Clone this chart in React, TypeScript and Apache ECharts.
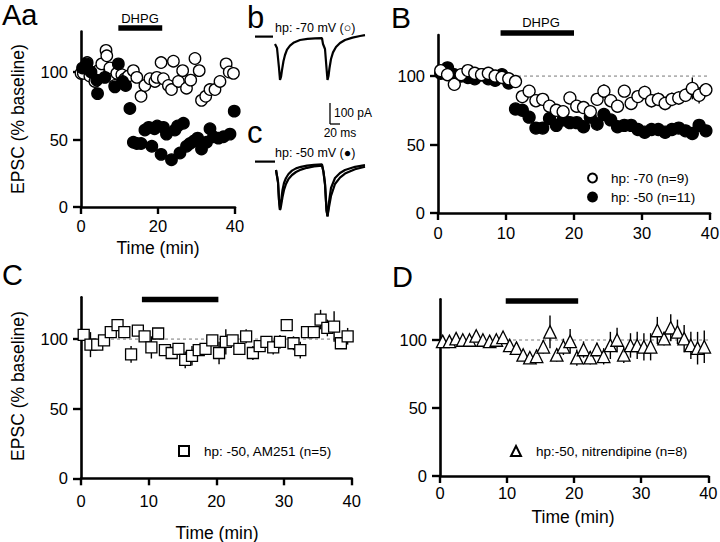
import React, { useEffect, useRef } from "react";
import * as echarts from "echarts";

// ---------- Panel Aa (single cell examples) ----------
const T_AA_HP70 = [0.0, 0.6, 1.6, 2.3, 3.6, 4.5, 5.4, 6.5, 6.7, 7.5, 8.8, 9.3, 10.6, 11.4, 12.3, 13.6, 14.5, 15.6, 16.6, 17.9, 19.2, 19.7, 20.8, 21.4, 22.7, 23.5, 24.0, 25.3, 26.4, 27.4, 28.5, 29.6, 30.7, 31.3, 32.4, 33.5, 34.8, 36.1, 37.7, 38.5, 39.6];
const V_AA_HP70 = [99, 99, 107, 97, 93, 101, 106, 116, 112, 103, 90, 99, 98, 95, 97, 101, 96, 82, 90, 95, 93, 96, 107, 95, 90, 87, 108, 93, 101, 88, 94, 110, 101, 79, 82, 87, 87, 93, 106, 100, 99];
const T_AA_HP50 = [0.4, 1.5, 2.6, 4.1, 4.3, 6.2, 8.8, 9.7, 10.8, 11.6, 12.7, 13.6, 14.5, 15.6, 16.6, 17.6, 18.4, 19.1, 19.8, 20.8, 21.4, 22.2, 23.5, 24.4, 25.1, 25.7, 26.6, 27.4, 28.3, 29.4, 30.3, 31.3, 32.6, 33.5, 34.4, 35.7, 37.0, 38.7, 39.8];
const V_AA_HP50 = [103, 106, 100, 94, 84, 96, 89, 106, 93, 90, 73, 48, 47, 47, 57, 59, 45, 58, 60, 39, 59, 54, 35, 57, 60, 40, 62, 45, 47, 49, 51, 43, 48, 58, 52, 51, 52, 54, 71];

// ---------- Averaged panels (B, C, D) ----------
const TIME_BIN = [0.4, 1.4, 2.4, 3.4, 4.4, 5.4, 6.4, 7.4, 8.4, 9.4, 10.4, 11.4, 12.4, 13.4, 14.4, 15.4, 16.4, 17.4, 18.4, 19.4, 20.4, 21.4, 22.4, 23.4, 24.4, 25.4, 26.4, 27.4, 28.4, 29.4, 30.4, 31.4, 32.4, 33.4, 34.4, 35.4, 36.4, 37.4, 38.4, 39.4];
const B_HP70 = [104, 101, 94, 101, 104, 102, 101, 102, 100, 99, 98, 96, 85, 89, 82, 83, 78, 75, 74, 84, 78, 77, 74, 83, 89, 82, 78, 89, 80, 85, 88, 82, 83, 80, 83, 84, 86, 91, 86, 90];
const B_HP70_SEM = [2, 2, 2, 2, 2, 2, 2, 2, 2, 2, 2, 3, 3, 3, 3, 3, 3, 3, 3, 3, 4, 4, 4, 4, 5, 4, 4, 4, 4, 4, 5, 5, 5, 5, 5, 5, 5, 8, 6, 5];
const B_HP50 = [102, 106, 101, 100, 99, 98, 101, 98, 97, 101, 95, 76, 75, 70, 62, 62, 69, 64, 68, 66, 66, 63, 70, 65, 72, 68, 63, 64, 64, 61, 59, 61, 61, 59, 61, 62, 60, 58, 64, 60];
const B_HP50_SEM = [2, 2, 2, 2, 2, 2, 2, 2, 3, 3, 3, 3, 3, 4, 4, 3, 3, 3, 3, 3, 3, 3, 4, 5, 4, 3, 3, 3, 3, 3, 3, 3, 3, 3, 3, 4, 3, 4, 4, 3];
const C_AM251 = [103, 96, 96, 99, 105, 110, 105, 89, 106, 102, 94, 104, 92, 90, 93, 85, 88, 92, 93, 99, 90, 98, 99, 93, 102, 90, 95, 98, 94, 98, 110, 97, 92, 105, 105, 114, 108, 109, 97, 102];
const C_AM251_SEM = [3, 9, 4, 3, 3, 3, 3, 6, 3, 4, 8, 4, 3, 4, 3, 6, 7, 4, 4, 4, 8, 9, 3, 4, 5, 5, 4, 4, 5, 5, 3, 5, 6, 3, 3, 7, 6, 11, 4, 6];
const D_NITR = [99, 99, 101, 100, 100, 103, 100, 99, 100, 102, 96, 94, 89, 87, 88, 95, 106, 89, 95, 99, 87, 93, 87, 93, 88, 96, 100, 89, 96, 96, 95, 95, 107, 101, 109, 106, 101, 96, 94, 95];
const D_NITR_SEM = [3, 3, 3, 3, 3, 3, 3, 3, 3, 3, 4, 4, 4, 4, 5, 5, 12, 5, 6, 9, 6, 6, 5, 5, 6, 10, 9, 6, 9, 10, 10, 10, 10, 5, 10, 9, 10, 10, 12, 12];

// DHPG application (min) for panels Aa, B, C, D
const DRUG_START = [9.7, 9.2, 9.0, 9.8];
const DRUG_END = [21.1, 20.0, 20.3, 20.6];
const DRUG_LEVEL = [132.6, 131.4, 128.4, 128.7];
const BASELINE_FROM = [null, 10, 0, 10];

// tick labels
const X_TICKS_AA = [0, 20, 40];
const X_TICKS = [0, 10, 20, 30, 40];
const Y_TICKS = [0, 50, 100];

// ---------- Example traces (ms, pA) ----------
const TRACE_B_T = [40, 44, 48, 50, 52, 54, 57, 60, 64, 70, 78, 90, 105, 120, 134, 136, 140, 143, 145, 147, 149, 152, 156, 162, 170, 180, 195, 210, 220];
const TRACE_B_I = [-30, -50, -150, -210, -195, -160, -115, -85, -58, -38, -22, -10, -4, -2, -1, -30, -55, -150, -210, -190, -150, -105, -72, -45, -25, -10, 2, 10, 14];
const TRACE_C1_T = [42, 46, 48, 50, 52, 55, 58, 62, 67, 74, 82, 92, 104, 118, 134, 137, 140, 143, 145, 148, 152, 160, 170, 180, 200, 220];
const TRACE_C1_I = [-30, -90, -180, -230, -190, -130, -95, -70, -50, -33, -22, -14, -8, -4, -2, -40, -100, -230, -262, -190, -120, -70, -45, -30, -14, -6];
const TRACE_C2_T = [42, 46, 48, 50, 52, 55, 58, 62, 67, 74, 82, 92, 104, 118, 134, 137, 140, 143, 145, 148, 152, 160, 170, 180, 200, 220];
const TRACE_C2_I = [-30, -90, -180, -230, -210, -165, -130, -100, -75, -55, -40, -28, -19, -12, -8, -40, -100, -230, -262, -215, -160, -100, -68, -48, -26, -14];
const STIM_B_T = [0, 36];
const STIM_B_I = [7, 7];
const STIM_C_T = [0, 40];
const STIM_C_I = [12, 12];

const FONT = "'Liberation Sans', Arial, Helvetica, sans-serif";

const zip = (a: number[], b: number[]) => a.map((x, i) => [x, b[i]]);
const zip3 = (a: number[], b: number[], c: number[]) => a.map((x, i) => [x, b[i], c[i]]);

function errRender(params: any, api: any) {
  const x = api.value(0);
  const y = api.value(1);
  const e = api.value(2);
  const p1 = api.coord([x, y - e]);
  const p2 = api.coord([x, y + e]);
  return {
    type: "line",
    shape: { x1: p1[0], y1: p1[1], x2: p2[0], y2: p2[1] },
    style: { stroke: "#000", lineWidth: 1.4 },
  };
}

function makeX(idx: number, ticks: number[], margin: number) {
  return {
    type: "value",
    gridIndex: idx,
    min: 0,
    max: 40,
    axisLine: { lineStyle: { color: "#000", width: 2.6 } },
    axisTick: { length: 7, lineStyle: { color: "#000", width: 2.4 }, customValues: ticks },
    axisLabel: { customValues: ticks, color: "#000", fontSize: 16.5, fontFamily: FONT, margin },
    splitLine: { show: false },
  };
}
function makeY(idx: number) {
  return {
    type: "value",
    gridIndex: idx,
    min: 0,
    max: 130,
    axisLine: { lineStyle: { color: "#000", width: 2.6 } },
    axisTick: { length: 8, lineStyle: { color: "#000", width: 2.4 }, customValues: Y_TICKS },
    axisLabel: { customValues: Y_TICKS, color: "#000", fontSize: 16.5, fontFamily: FONT, margin: 13 },
    splitLine: { show: false },
  };
}

function drugBar(i: number) {
  return {
    type: "line",
    xAxisIndex: i,
    yAxisIndex: i,
    clip: false,
    symbol: "none",
    silent: true,
    data: [[DRUG_START[i], DRUG_LEVEL[i]], [DRUG_END[i], DRUG_LEVEL[i]]],
    lineStyle: { color: "#000", width: 5.5, cap: "butt" },
    z: 1,
  };
}
function baseLine(i: number) {
  return {
    type: "line",
    xAxisIndex: i,
    yAxisIndex: i,
    symbol: "none",
    silent: true,
    data: [[BASELINE_FROM[i] as number, 100], [40, 100]],
    lineStyle: { color: "#777", width: 1, type: [3, 3] },
    z: 1,
  };
}
function errSeries(name: string, i: number, vals: number[], sem: number[]) {
  return {
    type: "custom",
    name,
    xAxisIndex: i,
    yAxisIndex: i,
    renderItem: errRender,
    data: zip3(TIME_BIN, vals, sem),
    encode: { x: 0, y: 1 },
    z: 2,
  };
}
function scatter(name: string, i: number, data: number[][], symbol: string, size: number, filled: boolean) {
  return {
    type: "scatter",
    name,
    xAxisIndex: i,
    yAxisIndex: i,
    symbol,
    symbolSize: size,
    data,
    itemStyle: { color: filled ? "#000" : "#fff", borderColor: "#000", borderWidth: 1.3, opacity: 1 },
    z: 3,
  };
}
function traceLine(i: number, t: number[], v: number[]) {
  return {
    type: "line",
    xAxisIndex: i,
    yAxisIndex: i,
    symbol: "none",
    silent: true,
    clip: false,
    data: zip(t, v),
    lineStyle: { color: "#000", width: 2.2 },
  };
}

function txt(text: string, x: number, y: number, size: number, align = "left", rotation = 0) {
  return {
    type: "text",
    x,
    y,
    rotation,
    silent: true,
    style: {
      text,
      fill: "#000",
      font: `${size}px ${FONT}`,
      fontSize: size,
      fontFamily: FONT,
      textAlign: align,
      align,
      textVerticalAlign: "middle",
      verticalAlign: "middle",
    },
  };
}

export default function App() {
  const ref = useRef<HTMLDivElement>(null);
  useEffect(() => {
    if (!ref.current) return;
    const chart = echarts.init(ref.current, null, { renderer: "svg" });
    const option: any = {
      animation: false,
      backgroundColor: "#fff",
      textStyle: { fontFamily: FONT },
      grid: [
        { left: 81, top: 31.5, width: 154, height: 175.5, outerBoundsMode: "none" },
        { left: 438, top: 35, width: 272, height: 178, outerBoundsMode: "none" },
        { left: 81, top: 297.3, width: 270.7, height: 181, outerBoundsMode: "none" },
        { left: 440, top: 299.2, width: 268.3, height: 176.8, outerBoundsMode: "none" },
        { left: 255, top: 33, width: 110, height: 49, outerBoundsMode: "none" },
        { left: 255, top: 159, width: 110, height: 59, outerBoundsMode: "none" },
      ],
      xAxis: [
        makeX(0, X_TICKS_AA, 10),
        makeX(1, X_TICKS, 11),
        makeX(2, X_TICKS, 14),
        makeX(3, X_TICKS, 8),
        { type: "value", gridIndex: 4, min: 0, max: 220, show: false },
        { type: "value", gridIndex: 5, min: 0, max: 220, show: false },
      ],
      yAxis: [
        makeY(0),
        makeY(1),
        makeY(2),
        makeY(3),
        { type: "value", gridIndex: 4, min: -220, max: 25, show: false },
        { type: "value", gridIndex: 5, min: -270, max: 25, show: false },
      ],
      legend: [
        {
          data: ["hp: -70 (n=9)", "hp: -50 (n=11)"],
          orient: "vertical",
          left: 587,
          top: 171,
          padding: 0,
          itemWidth: 9,
          itemHeight: 9,
          itemGap: 5,
          selectedMode: false,
          textStyle: { fontSize: 13.5, fontFamily: FONT, color: "#000", lineHeight: 14, padding: [0, 0, 0, 9] },
        },
        {
          data: ["hp: -50, AM251 (n=5)"],
          left: 178,
          top: 444,
          padding: 0,
          itemWidth: 10,
          itemHeight: 10,
          selectedMode: false,
          textStyle: { fontSize: 13.5, fontFamily: FONT, color: "#000", padding: [0, 0, 0, 10] },
        },
        {
          data: ["hp:-50, nitrendipine (n=8)"],
          left: 510,
          top: 444,
          padding: 0,
          itemWidth: 10,
          itemHeight: 10,
          selectedMode: false,
          textStyle: { fontSize: 13.5, fontFamily: FONT, color: "#000", padding: [0, 0, 0, 10] },
        },
      ],
      series: [
        // Aa
        drugBar(0),
        scatter("Aa hp -70", 0, zip(T_AA_HP70, V_AA_HP70), "circle", 11.5, false),
        scatter("Aa hp -50", 0, zip(T_AA_HP50, V_AA_HP50), "circle", 11.5, true),
        // B
        drugBar(1),
        baseLine(1),
        errSeries("B sem -50", 1, B_HP50, B_HP50_SEM),
        scatter("hp: -50 (n=11)", 1, zip(TIME_BIN, B_HP50), "circle", 12, true),
        errSeries("B sem -70", 1, B_HP70, B_HP70_SEM),
        scatter("hp: -70 (n=9)", 1, zip(TIME_BIN, B_HP70), "circle", 12, false),
        // C
        drugBar(2),
        baseLine(2),
        errSeries("C sem", 2, C_AM251, C_AM251_SEM),
        scatter("hp: -50, AM251 (n=5)", 2, zip(TIME_BIN, C_AM251), "rect", 11, false),
        // D
        drugBar(3),
        baseLine(3),
        errSeries("D sem", 3, D_NITR, D_NITR_SEM),
        scatter("hp:-50, nitrendipine (n=8)", 3, zip(TIME_BIN, D_NITR), "triangle", 12.5, false),
        // traces
        traceLine(4, STIM_B_T, STIM_B_I),
        traceLine(4, TRACE_B_T, TRACE_B_I),
        traceLine(5, STIM_C_T, STIM_C_I),
        traceLine(5, TRACE_C1_T, TRACE_C1_I),
        traceLine(5, TRACE_C2_T, TRACE_C2_I),
      ],
      graphic: [
        txt("Aa", 2, 15, 29),
        txt("B", 391, 17, 30),
        txt("C", 2, 275, 29),
        txt("D", 392, 277, 29),
        txt("b", 247, 17.5, 31),
        txt("c", 247, 132.5, 31),
        txt("hp: -70 mV (○)", 275, 28, 12.5),
        txt("hp: -50 mV (●)", 275, 153, 12.5),
        txt("100 pA", 334, 113, 12),
        txt("20 ms", 340, 133, 12, "center"),
        txt("DHPG", 140, 18.5, 13, "center"),
        txt("DHPG", 541, 22, 13, "center"),
        txt("EPSC (% baseline)", 17.5, 119, 17.5, "center", Math.PI / 2),
        txt("EPSC (% baseline)", 17.5, 386, 17.5, "center", Math.PI / 2),
        txt("Time (min)", 158, 248, 17.5, "center"),
        txt("Time (min)", 217, 533, 17.5, "center"),
        txt("Time (min)", 573, 517, 17.5, "center"),
        {
          type: "line",
          silent: true,
          shape: { x1: 330, y1: 103, x2: 330, y2: 124 },
          style: { stroke: "#000", lineWidth: 1.3 },
        },
        {
          type: "line",
          silent: true,
          shape: { x1: 330, y1: 124, x2: 340, y2: 124 },
          style: { stroke: "#000", lineWidth: 1.3 },
        },
      ],
    };
    chart.setOption(option);
    return () => chart.dispose();
  }, []);
  return (
    <div
      ref={ref}
      style={{ position: "absolute", left: 0, top: 0, width: 720, height: 542, background: "#fff" }}
    />
  );
}
